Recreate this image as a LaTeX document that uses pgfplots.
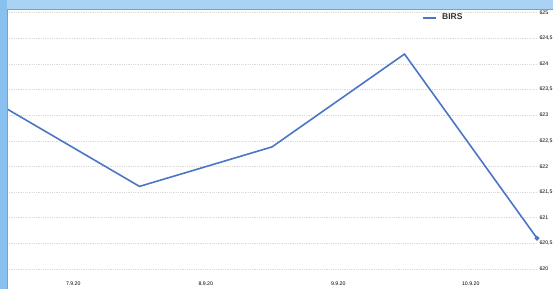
\documentclass[border=0pt]{standalone}
\usepackage{pgfplots}
\pgfplotsset{compat=1.18}
\usepackage{fontspec}
\setmainfont{Liberation Sans}
\definecolor{bandtop}{HTML}{AAD2F5}
\definecolor{bandleft}{HTML}{88C0F0}
\definecolor{linecol}{HTML}{4A76C6}
\definecolor{gridcol}{HTML}{DADADA}
\begin{document}
\begin{tikzpicture}[x=1pt,y=1pt]
\path[use as bounding box] (0,0) rectangle (553,289);
\clip (0,0) rectangle (553,289);
\fill[white] (0,0) rectangle (553,289);
\begin{axis}[
  at={(7pt,20pt)}, anchor=origin,
  scale only axis,
  width=530pt, height=256.5pt,
  xmin=0, xmax=4, ymin=620, ymax=625,
  clip=false,
  axis line style={draw=none},
  major tick length=0pt,
  xtick={0.5,1.5,2.5,3.5},
  xticklabels={7.9.20,8.9.20,9.9.20,10.9.20},
  ytick={620,620.5,...,625},
  yticklabel pos=right,
  /pgf/number format/.cd, use comma, fixed, precision=1, assume math mode=true,
  /pgfplots/.cd,
  ymajorgrids,
  grid style={gridcol, dash pattern=on 0.6pt off 1.2pt, line width=0.5pt},
  tick label style={font=\fontsize{5.2}{6}\selectfont, text=black},
  xticklabel style={yshift=-9pt},
  yticklabel style={xshift=-1pt},
  legend style={draw=none, fill=none, at={(rel axis cs:0.783,0.980)}, anchor=west,
    font=\fontsize{8.5}{10}\selectfont\bfseries, text=black!80, inner sep=0pt,
    /tikz/every even column/.append style={column sep=2pt}},
  legend cell align=left,
  legend image code/.code={\draw[#1, line width=2pt] (0pt,0pt) -- (13pt,0pt);},
]
\addplot[color=linecol, line width=1.6pt, mark=*, mark size=1.5pt, mark indices={5}]
  coordinates {(0,623.12) (1,621.61) (2,622.38) (3,624.19) (4,620.6)};
\addlegendentry{\hspace{3pt}BIRS}
\end{axis}
\fill[bandtop] (0,280) rectangle (553,289);
\fill[bandleft] (0,0) rectangle (7,289);
\draw[gray!80, line width=0.8pt] (7,0) -- (7,280) -- (553,280);
\end{tikzpicture}
\end{document}
